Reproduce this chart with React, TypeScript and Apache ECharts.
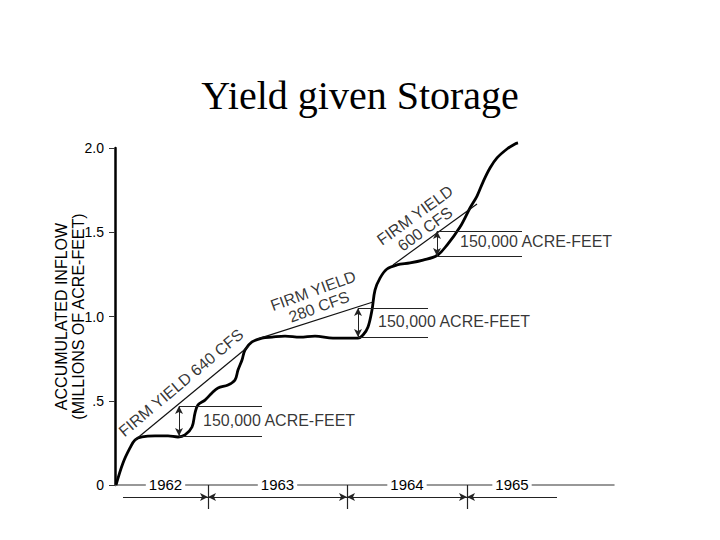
import { useEffect, useRef } from "react";
import * as echarts from "echarts";

// Time axis in arbitrary units (≈ tenths of the drawn span), inflow in millions of acre-feet
const curveX = [0.1, 0.8, 1.5, 2.0, 2.7, 4.0, 5.3, 6.3, 7.0, 7.7, 8.0, 8.3, 9.0, 9.7, 10.3, 11.3, 12.0, 12.3, 12.7, 13.0, 13.7, 14.7, 15.7, 17.0, 18.5, 20.0, 21.8, 22.8, 24.3, 24.8, 25.3, 25.7, 26.0, 26.5, 27.2, 28.2, 29.5, 30.8, 32.2, 33.2, 34.5, 35.5, 36.2, 36.8, 37.5, 38.2, 39.2, 40.0, 40.3];
const curveY = [0, 0.131, 0.22, 0.267, 0.285, 0.291, 0.291, 0.285, 0.297, 0.344, 0.427, 0.475, 0.504, 0.546, 0.576, 0.593, 0.623, 0.682, 0.742, 0.801, 0.849, 0.872, 0.878, 0.884, 0.878, 0.884, 0.872, 0.872, 0.872, 0.89, 0.938, 1.039, 1.157, 1.228, 1.282, 1.306, 1.318, 1.335, 1.362, 1.424, 1.531, 1.644, 1.715, 1.798, 1.881, 1.941, 1.994, 2.024, 2.03];

const yieldNames = ["FIRM YIELD 640 CFS", "FIRM YIELD\n280 CFS", "FIRM YIELD\n600 CFS"];
const yieldStartX = [2.0, 14.2, 27.8];
const yieldStartY = [0.267, 0.866, 1.306];
const yieldEndX = [13.4, 25.8, 36.2];
const yieldEndY = [0.825, 1.086, 1.668];
const yieldLabelX = [6.6, 20.1, 30.5];
const yieldLabelY = [0.607, 1.105, 1.56];
const yieldLabelAngle = [40, 20, 36];

const storageLabel = "150,000 ACRE-FEET";
const storageX = [6.4, 24.3, 32.2];
const storageBottom = [0.291, 0.878, 1.359];
const storageTop = [0.469, 1.05, 1.507];
const storageEndX = [14.7, 31.3, 40.7];
const storageLabelX = [8.8, 26.3, 34.5];
const storageLabelY = [0.38, 0.973, 1.448];

const years = ["1962", "1963", "1964", "1965"];
const yearStart = [0.8, 9.3, 23.2, 35.2];
const yearEnd = [9.3, 23.2, 35.2, 44.2];
const yearBoundaries = [9.3, 23.2, 35.2];

const yTickLabels = ["0", ".5", "1.0", "1.5", "2.0"];

const X_MAX = 49.9;
const SANS = "Liberation Sans, Arial, sans-serif";

export default function App() {
  const ref = useRef<HTMLDivElement>(null);

  useEffect(() => {
    if (!ref.current) return;
    const chart = echarts.init(ref.current, undefined, { renderer: "svg" });

    const yieldSeries = yieldNames.map((n, i) => ({
      type: "line",
      name: n,
      xAxisIndex: 0,
      yAxisIndex: 0,
      data: [
        [yieldStartX[i], yieldStartY[i]],
        [yieldEndX[i], yieldEndY[i]],
      ],
      showSymbol: false,
      symbol: "none",
      silent: true,
      lineStyle: { color: "#111", width: 1.2 },
    }));

    const storageLines: any[] = [];
    storageX.forEach((x, i) => {
      storageLines.push([
        { coord: [x, storageTop[i]] },
        { coord: [storageEndX[i], storageTop[i]] },
      ]);
      storageLines.push([
        { coord: [x, storageBottom[i]] },
        { coord: [storageEndX[i], storageBottom[i]] },
      ]);
      storageLines.push([
        { coord: [x, storageBottom[i]], symbol: "arrow", symbolSize: [6, 8] },
        { coord: [x, storageTop[i]], symbol: "arrow", symbolSize: [6, 8] },
      ]);
    });

    const labelData: any[] = [];
    yieldNames.forEach((n, i) => {
      labelData.push({
        value: [yieldLabelX[i], yieldLabelY[i]],
        name: n,
        label: {
          show: true,
          position: "inside",
          rotate: yieldLabelAngle[i],
          align: "center",
          verticalAlign: "middle",
        },
      });
    });
    storageX.forEach((_, i) => {
      labelData.push({
        value: [storageLabelX[i], storageLabelY[i]],
        name: storageLabel,
        label: { show: true, position: "right", distance: 0 },
      });
    });

    const yearLines: any[] = [];
    years.forEach((y, i) => {
      yearLines.push([
        {
          coord: [yearStart[i], 0.5],
          symbol: i > 0 ? "arrow" : "none",
          symbolSize: [6, 8],
          name: y,
        },
        {
          coord: [yearEnd[i], 0.5],
          symbol: i < years.length - 1 ? "arrow" : "none",
          symbolSize: [6, 8],
        },
      ]);
    });
    yearBoundaries.forEach((b) => {
      yearLines.push([
        { coord: [b, 1], symbol: "none", label: { show: false } },
        { coord: [b, 0], symbol: "none" },
      ]);
    });

    const option: any = {
      animation: false,
      backgroundColor: "#fff",
      title: {
        text: "Yield given Storage",
        left: "center",
        top: 70,
        textStyle: {
          fontFamily: "Liberation Serif, Times New Roman, serif",
          fontSize: 40,
          fontWeight: "normal",
          color: "#000",
        },
      },
      grid: [
        { left: 115, right: 720 - 115 - 499, top: 148, bottom: 55 },
        { left: 115, right: 720 - 115 - 499, top: 485, height: 24 },
      ],
      xAxis: [
        {
          type: "value",
          gridIndex: 0,
          min: 0,
          max: X_MAX,
          axisLine: { show: true, lineStyle: { color: "#777", width: 1.5 } },
          axisTick: { show: false },
          axisLabel: { show: false },
          splitLine: { show: false },
        },
        { type: "value", gridIndex: 1, min: 0, max: X_MAX, show: false },
      ],
      yAxis: [
        {
          type: "value",
          gridIndex: 0,
          min: 0,
          max: 2,
          interval: 0.5,
          axisLine: { show: true, lineStyle: { color: "#000", width: 2.5 } },
          axisTick: { show: true, length: 6, lineStyle: { color: "#333", width: 1 } },
          axisLabel: {
            formatter: (v: number) => yTickLabels[Math.round(v / 0.5)],
            fontSize: 14,
            fontFamily: SANS,
            color: "#000",
            margin: 11,
          },
          splitLine: { show: false },
          name: "ACCUMULATED INFLOW\n(MILLIONS OF ACRE-FEET)",
          nameLocation: "middle",
          nameGap: 28,
          nameMoveOverlap: false,
          nameTextStyle: {
            fontSize: 16,
            fontFamily: SANS,
            color: "#000",
            lineHeight: 17,
          },
        },
        { type: "value", gridIndex: 1, min: 0, max: 1, show: false },
      ],
      series: [
        {
          type: "line",
          name: "Accumulated inflow",
          xAxisIndex: 0,
          yAxisIndex: 0,
          data: curveX.map((x, i) => [x, curveY[i]]),
          smooth: 0.35,
          showSymbol: false,
          symbol: "none",
          clip: false,
          silent: true,
          lineStyle: { color: "#000", width: 2.8 },
          markLine: {
            silent: true,
            symbol: ["none", "none"],
            label: { show: false },
            lineStyle: { color: "#222", width: 1, type: "solid" },
            emphasis: { disabled: true },
            data: storageLines,
          },
        },
        ...yieldSeries,
        {
          type: "scatter",
          name: "labels",
          xAxisIndex: 0,
          yAxisIndex: 0,
          symbolSize: 0,
          silent: true,
          data: labelData,
          label: {
            show: true,
            formatter: (p: any) => p.name,
            fontSize: 16,
            fontFamily: SANS,
            color: "#000",
            lineHeight: 17,
          },
        },
        {
          type: "line",
          name: "years",
          xAxisIndex: 1,
          yAxisIndex: 1,
          data: [[0, 0.5]],
          showSymbol: false,
          symbol: "none",
          silent: true,
          lineStyle: { opacity: 0 },
          markLine: {
            silent: true,
            symbol: ["none", "none"],
            lineStyle: { color: "#222", width: 1.2, type: "solid" },
            emphasis: { disabled: true },
            label: {
              show: true,
              position: "middle",
              formatter: (p: any) => p.name,
              fontSize: 15,
              fontFamily: SANS,
              color: "#000",
              backgroundColor: "#fff",
              padding: [0, 3],
            },
            data: yearLines,
          },
        },
      ],
    };

    chart.setOption(option);
    return () => chart.dispose();
  }, []);

  return (
    <div
      ref={ref}
      style={{ position: "fixed", left: 0, top: 0, width: 720, height: 540 }}
    />
  );
}
